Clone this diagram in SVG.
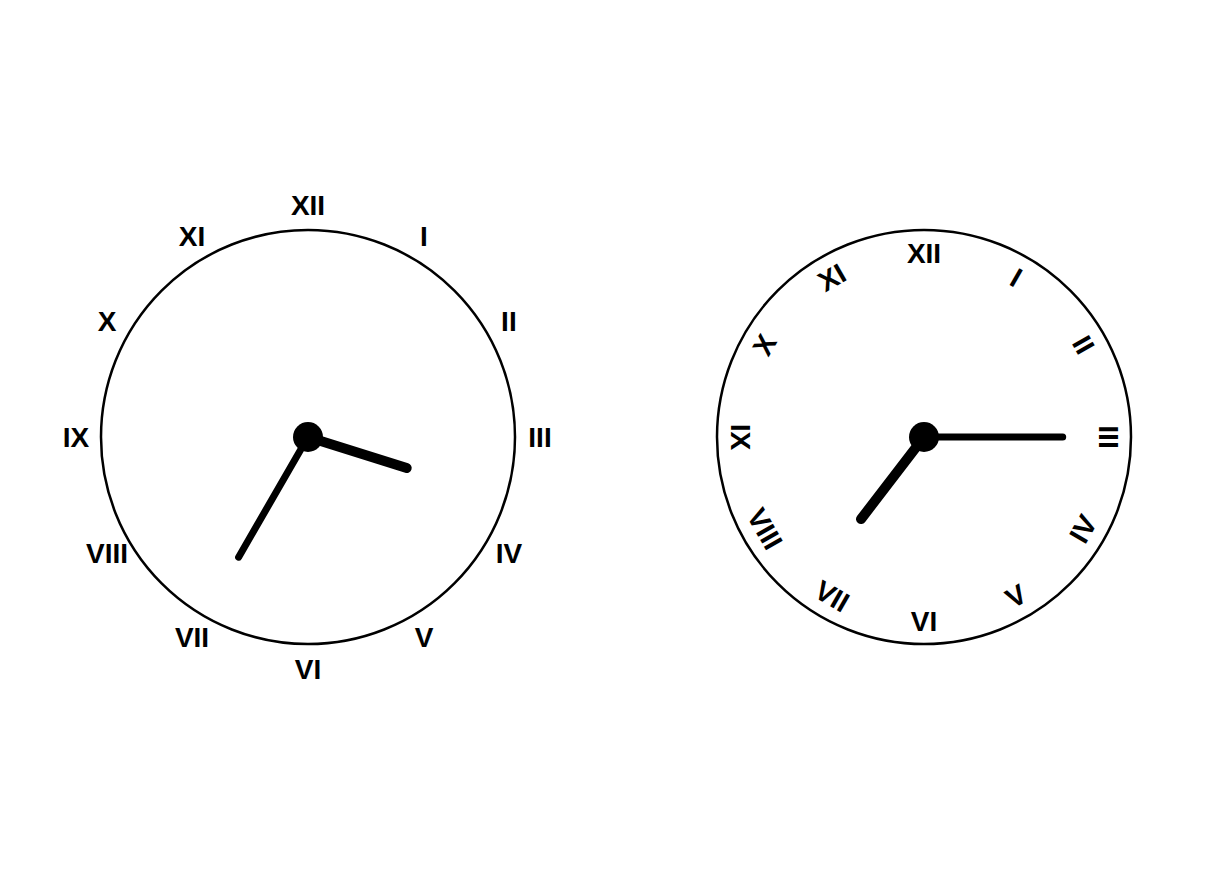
<svg xmlns="http://www.w3.org/2000/svg" width="1232" height="880" viewBox="0 0 1232 880">
<style>
.face{fill:none;stroke:#000;stroke-width:2.5}
.lbl{font-family:"Liberation Sans",Arial,sans-serif;font-weight:bold;font-size:28px;fill:#000;text-anchor:middle;dominant-baseline:central}
.hour{stroke:#000;stroke-width:10;stroke-linecap:round}
.min{stroke:#000;stroke-width:7;stroke-linecap:round}
.hub{fill:#000}
</style>
<rect width="1232" height="880" fill="#fff"/>
<g id="clock-left">
<circle class="face" cx="308" cy="437" r="207"/>
<g id="labels-left">
<text class="lbl" x="308" y="205">XII</text>
<text class="lbl" x="424" y="236.1">I</text>
<text class="lbl" x="508.9" y="321">II</text>
<text class="lbl" x="540" y="437">III</text>
<text class="lbl" x="508.9" y="553">IV</text>
<text class="lbl" x="424" y="637.9">V</text>
<text class="lbl" x="308" y="669">VI</text>
<text class="lbl" x="192" y="637.9">VII</text>
<text class="lbl" x="107.1" y="553">VIII</text>
<text class="lbl" x="76" y="437">IX</text>
<text class="lbl" x="107.1" y="321">X</text>
<text class="lbl" x="192" y="236.1">XI</text>
</g>
<g id="hands-left">
<line class="hour" x1="308" y1="437" x2="406.7" y2="468.1"/>
<line class="min" x1="308" y1="437" x2="238.6" y2="557.2"/>
<circle class="hub" cx="308" cy="437" r="15"/>
</g>
</g>
<g id="clock-right">
<circle class="face" cx="924" cy="437" r="207"/>
<g id="labels-right">
<text class="lbl" transform="translate(924 253)">XII</text>
<text class="lbl" transform="translate(1016 277.7) rotate(30)">I</text>
<text class="lbl" transform="translate(1083.3 345) rotate(60)">II</text>
<text class="lbl" transform="translate(1108 437) rotate(90)">III</text>
<text class="lbl" transform="translate(1083.3 529) rotate(-60)">IV</text>
<text class="lbl" transform="translate(1016 596.3) rotate(-30)">V</text>
<text class="lbl" transform="translate(924 621)">VI</text>
<text class="lbl" transform="translate(832 596.3) rotate(30)">VII</text>
<text class="lbl" transform="translate(764.7 529) rotate(60)">VIII</text>
<text class="lbl" transform="translate(740 437) rotate(90)">IX</text>
<text class="lbl" transform="translate(764.7 345) rotate(-60)">X</text>
<text class="lbl" transform="translate(832 277.7) rotate(-30)">XI</text>
</g>
<g id="hands-right">
<line class="hour" x1="924" y1="437" x2="861" y2="519.1"/>
<line class="min" x1="924" y1="437" x2="1062.7" y2="437"/>
<circle class="hub" cx="924" cy="437" r="15"/>
</g>
</g>
</svg>
